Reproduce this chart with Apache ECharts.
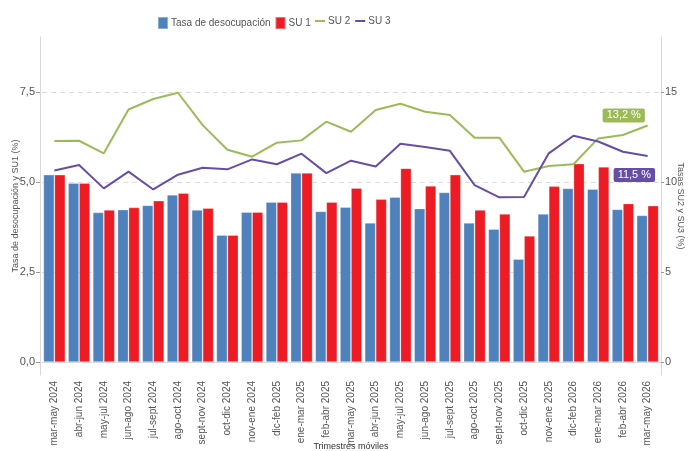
<!DOCTYPE html>
<html>
<head>
<meta charset="utf-8">
<script src="https://cdn.jsdelivr.net/npm/echarts@6/dist/echarts.min.js"></script>
<style>html,body{margin:0;padding:0;background:#fff}#c{width:688px;height:451px}</style>
</head>
<body>
<div id="c"></div>
<script>
const categories = ['mar-may 2024','abr-jun 2024','may-jul 2024','jun-ago 2024','jul-sept 2024','ago-oct 2024','sept-nov 2024','oct-dic 2024','nov-ene 2024','dic-feb 2025','ene-mar 2025','feb-abr 2025','mar-may 2025','abr-jun 2025','may-jul 2025','jun-ago 2025','jul-sept 2025','ago-oct 2025','sept-nov 2025','oct-dic 2025','nov-ene 2025','dic-feb 2026','ene-mar 2026','feb-abr 2026','mar-may 2026'];
const tasaDesocupacion = [5.21,4.98,4.16,4.24,4.36,4.65,4.23,3.53,4.17,4.45,5.26,4.19,4.31,3.87,4.59,4.27,4.72,3.87,3.70,2.86,4.12,4.83,4.81,4.25,4.08];
const su1 = [5.21,4.98,4.23,4.30,4.49,4.70,4.28,3.53,4.17,4.45,5.26,4.45,4.84,4.53,5.39,4.90,5.21,4.23,4.12,3.51,4.89,5.52,5.43,4.41,4.35];
const su2 = [12.29,12.31,11.61,14.05,14.63,14.98,13.18,11.81,11.42,12.20,12.33,13.37,12.81,14.02,14.37,13.92,13.74,12.48,12.48,10.59,10.90,11.00,12.44,12.63,13.16];
const su3 = [10.66,10.96,9.66,10.59,9.60,10.42,10.81,10.72,11.27,11.00,11.59,10.51,11.20,10.88,12.14,11.96,11.75,9.84,9.16,9.18,11.61,12.59,12.27,11.70,11.46];
const leftTicks = [0, 2.5, 5, 7.5];
const rightTicks = [0, 5, 10, 15];

const FONT = '"Liberation Sans", Arial, sans-serif';
const chart = echarts.init(document.getElementById('c'), null, {renderer: 'canvas'});
const fmt1 = v => v.toFixed(1).replace('.', ',');

chart.setOption({
  animation: false,
  textStyle: {fontFamily: FONT},
  legend: [{
    left: 152, top: 11, itemGap: 4, itemWidth: 10, itemHeight: 12,
    textStyle: {fontFamily: FONT, fontSize: 10, color: '#555', padding: [0,0,0,-2]},
    data: [{name: 'Tasa de desocupación', icon: 'rect'}, {name: 'SU 1', icon: 'rect'}]
  }, {
    left: 310, top: 11, itemGap: 5, itemWidth: 10, itemHeight: 2,
    textStyle: {fontFamily: FONT, fontSize: 10, color: '#555', padding: [0,0,0,-2]},
    data: [{name: 'SU 2', icon: 'rect'}, {name: 'SU 3', icon: 'rect'}]
  }],
  grid: {left: 42, right: 28, top: 37, bottom: 76, containLabel: false, outerBoundsMode: 'none'},
  xAxis: {
    type: 'category', data: categories,
    name: 'Trimestres móviles', nameLocation: 'middle', nameGap: 67, nameMoveOverlap: false,
    nameTextStyle: {fontFamily: FONT, fontSize: 9, color: '#333'},
    axisLine: {lineStyle: {color: '#d9d9d9'}},
    axisTick: {alignWithLabel: true, length: 4, lineStyle: {color: '#999'}},
    axisLabel: {rotate: 90, interval: 0, fontSize: 10, color: '#555', margin: 6, fontFamily: FONT}
  },
  yAxis: [{
    type: 'value', min: -0.36, max: 9.04, offset: 2,
    name: 'Tasa de desocupación y SU1 (%)', nameLocation: 'middle', nameGap: 20, nameMoveOverlap: false,
    nameTextStyle: {fontFamily: FONT, fontSize: 9, color: '#555'},
    axisLine: {show: true, lineStyle: {color: '#d9d9d9'}},
    axisTick: {show: true, length: 4, customValues: leftTicks, lineStyle: {color: '#999'}},
    axisLabel: {customValues: leftTicks, formatter: fmt1, fontSize: 11, color: '#555', margin: 5, fontFamily: FONT},
    splitLine: {show: true, lineStyle: {color: '#dcdcdc', type: [5, 4]}}
  }, {
    type: 'value', min: -0.72, max: 18.08, offset: 1,
    name: 'Tasas SU2 y SU3 (%)', nameLocation: 'middle', nameGap: 15, nameRotate: -90, nameMoveOverlap: false,
    nameTextStyle: {fontFamily: FONT, fontSize: 9, color: '#555'},
    axisLine: {show: true, lineStyle: {color: '#d9d9d9'}},
    axisTick: {show: true, length: 3, customValues: rightTicks, lineStyle: {color: '#999'}},
    axisLabel: {customValues: rightTicks, fontSize: 11, color: '#555', margin: 4, fontFamily: FONT},
    splitLine: {show: false}
  }],
  series: [{
    name: 'Tasa de desocupación', type: 'bar', yAxisIndex: 0, data: tasaDesocupacion,
    barGap: '0%', barCategoryGap: '11%',
    itemStyle: {color: '#4f81bd', borderColor: 'rgba(255,255,255,0.35)', borderWidth: 0.8}
  }, {
    name: 'SU 1', type: 'bar', yAxisIndex: 0, data: su1,
    barGap: '0%', barCategoryGap: '11%',
    itemStyle: {color: '#ed1c24', borderColor: 'rgba(255,255,255,0.35)', borderWidth: 0.8}
  }, {
    name: 'SU 2', type: 'line', yAxisIndex: 1, data: su2, symbol: 'none',
    lineStyle: {color: '#9bbb59', width: 2}, itemStyle: {color: '#9bbb59'},
    endLabel: {show: true, formatter: p => fmt1(p.value) + ' %', color: '#fff', fontSize: 11, fontFamily: FONT,
      backgroundColor: '#9bbb59', padding: [2, 4, 1, 4], borderRadius: 2, offset: [-53, -10]}
  }, {
    name: 'SU 3', type: 'line', yAxisIndex: 1, data: su3, symbol: 'none',
    lineStyle: {color: '#664ea6', width: 2}, itemStyle: {color: '#664ea6'},
    endLabel: {show: true, formatter: p => fmt1(p.value) + ' %', color: '#fff', fontSize: 11, fontFamily: FONT,
      backgroundColor: '#664ea6', padding: [2, 4, 1, 4], borderRadius: 2, offset: [-42, 19]}
  }]
});
</script>
</body>
</html>
